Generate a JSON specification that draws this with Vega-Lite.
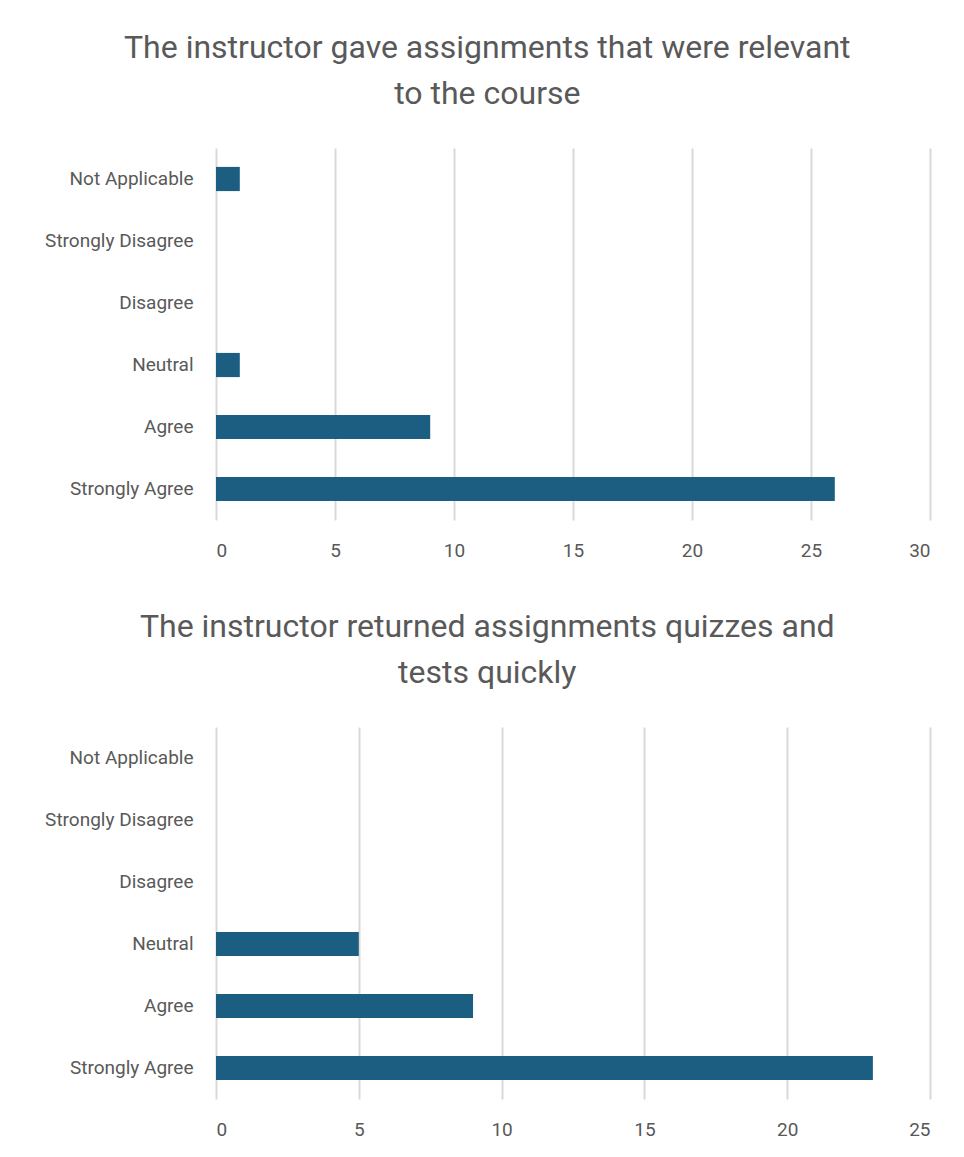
{
  "$schema": "https://vega.github.io/schema/vega-lite/v6.json",
  "background": "white",
  "padding": {"left": 44, "top": 32, "right": 20, "bottom": 10},
  "spacing": 51,
  "config": {
    "view": {"stroke": null},
    "font": "Roboto",
    "axis": {"labelColor": "#595959", "labelFont": "Roboto", "labelFontSize": 19, "gridColor": "#d9d9d9", "gridWidth": 2, "domain": false, "ticks": false, "title": null},
    "title": {"color": "#595959", "font": "Roboto", "fontSize": 32, "fontWeight": "normal", "lineHeight": 46, "anchor": "middle", "frame": "bounds", "offset": 37}
  },
  "datasets": {
    "q1": [
      {"response": "Not Applicable", "count": 1},
      {"response": "Strongly Disagree", "count": 0},
      {"response": "Disagree", "count": 0},
      {"response": "Neutral", "count": 1},
      {"response": "Agree", "count": 9},
      {"response": "Strongly Agree", "count": 26}
    ],
    "q2": [
      {"response": "Not Applicable", "count": 0},
      {"response": "Strongly Disagree", "count": 0},
      {"response": "Disagree", "count": 0},
      {"response": "Neutral", "count": 5},
      {"response": "Agree", "count": 9},
      {"response": "Strongly Agree", "count": 23}
    ]
  },
  "vconcat": [
    {
      "title": {"text": ["The instructor gave assignments that were relevant", "to the course"]},
      "data": {"name": "q1"},
      "width": 714,
      "height": 372,
      "mark": {"type": "bar", "color": "#1B5E82"},
      "encoding": {
        "y": {"field": "response", "type": "nominal", "sort": null,
              "scale": {"paddingInner": 0.61, "paddingOuter": 0.305},
              "axis": {"grid": false, "labelPadding": 23}},
        "x": {"field": "count", "type": "quantitative",
              "scale": {"domain": [0, 30], "nice": false},
              "axis": {"values": [0, 5, 10, 15, 20, 25, 30], "labelPadding": 21}}
      }
    },
    {
      "title": {"text": ["The instructor returned assignments quizzes and", "tests quickly"]},
      "data": {"name": "q2"},
      "width": 714,
      "height": 372,
      "mark": {"type": "bar", "color": "#1B5E82"},
      "encoding": {
        "y": {"field": "response", "type": "nominal", "sort": null,
              "scale": {"paddingInner": 0.61, "paddingOuter": 0.305},
              "axis": {"grid": false, "labelPadding": 23}},
        "x": {"field": "count", "type": "quantitative",
              "scale": {"domain": [0, 25], "nice": false},
              "axis": {"values": [0, 5, 10, 15, 20, 25], "labelPadding": 21}}
      }
    }
  ]
}
